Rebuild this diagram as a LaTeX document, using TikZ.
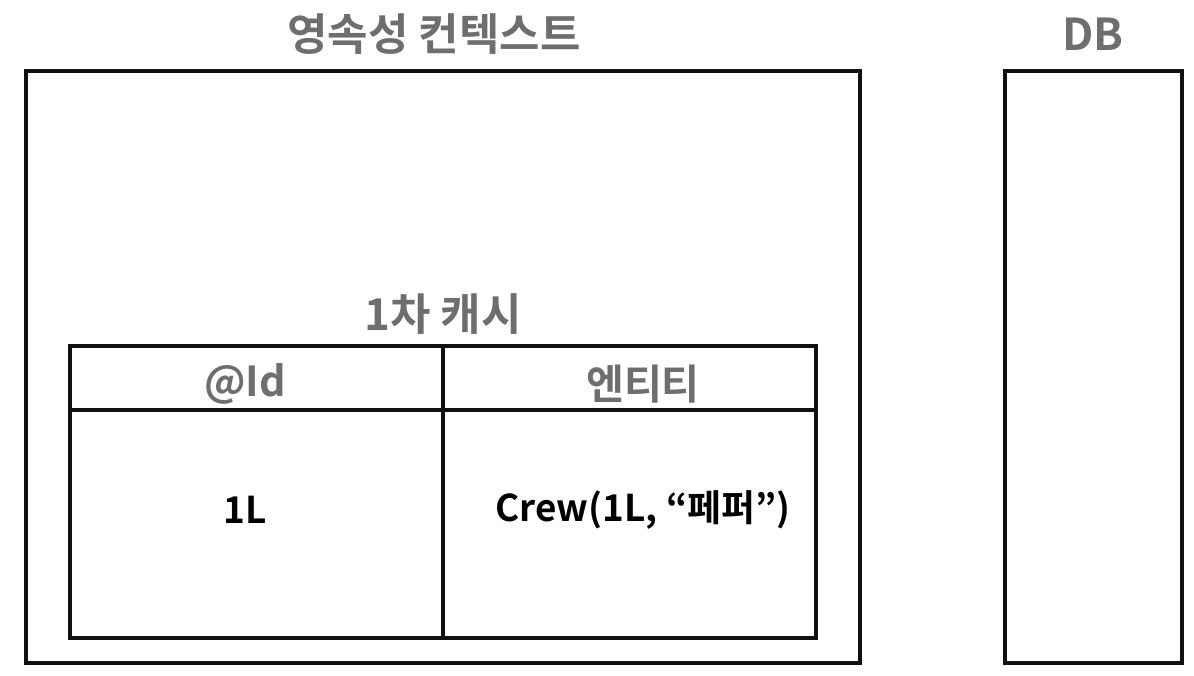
\documentclass[tikz,border=0pt]{standalone}
\usepackage{fontspec}
\usepackage{tikz}
\usetikzlibrary{positioning}
\setmainfont{Noto Sans CJK KR}[BoldFont={Noto Sans CJK KR Bold}]
\definecolor{titlegray}{HTML}{6E6E6E}
\definecolor{linedark}{HTML}{111111}

\begin{document}
\begin{tikzpicture}[
  x=0.02cm, y=-0.02cm,
  font=\bfseries,
  frame/.style={draw=linedark, line width=2pt, outer sep=0pt, inner sep=0pt},
  cell/.style={frame, minimum width=7.46cm},
  heading/.style={text=titlegray, font=\fontsize{25}{28}\selectfont\bfseries},
  headcell/.style={text=titlegray, font=\fontsize{23.5}{26}\selectfont\bfseries},
  entry/.style={text=black, font=\fontsize{21}{24}\selectfont\bfseries}
]
\useasboundingbox (0,0) rectangle (1194,676);

% ---------------- Persistence context ----------------
\node[frame, minimum width=16.68cm, minimum height=11.84cm] (ctx) at (443,367) {};
\node[heading] (ctxtitle) at (434,34) {영속성 컨텍스트};

% ---------------- DB ----------------
\node[frame, minimum width=3.54cm, minimum height=11.84cm] (db) at (1093.5,367) {};
\node[heading] (dbtitle) at (1093,34) {DB};

% ---------------- First-level cache ----------------
\node[heading] (cachetitle) at (443,314) {1차 캐시};
\node[cell, minimum height=1.28cm] (idhead) at (256.5,378) {};
\node[cell, minimum height=1.28cm, right=0pt of idhead] (enthead) {};
\node[cell, minimum height=4.56cm, below=0pt of idhead] (idcell) {};
\node[cell, minimum height=4.56cm, below=0pt of enthead] (entcell) {};

% ---------------- Cell texts ----------------
\node[headcell] (idlabel) at (245,384) {@Id};
\node[headcell] (entlabel) at (643,384) {엔티티};
\node[entry] (idvalue) at (245,510) {1L};
\node[entry] (entvalue) at (643,510) {Crew(1L, “페퍼”)};

\end{tikzpicture}
\end{document}
